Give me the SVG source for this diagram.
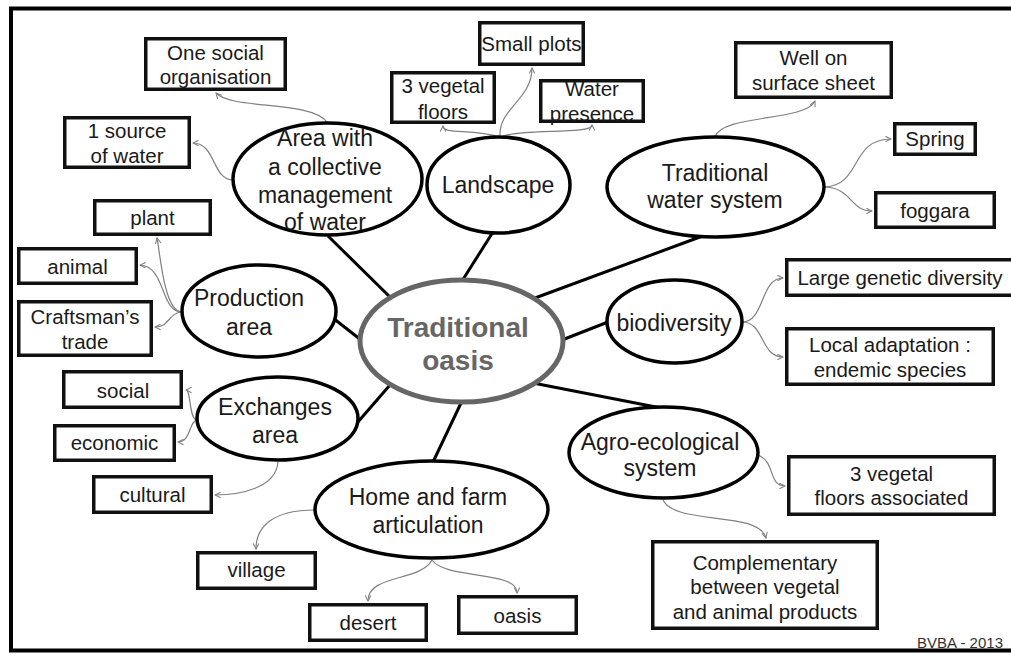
<svg xmlns="http://www.w3.org/2000/svg" width="1011" height="655" viewBox="0 0 1011 655">
<defs>
<style>
.bg{fill:#fff}
.frame{fill:none;stroke:#000;stroke-width:4}
.box{fill:#fff;stroke:#111;stroke-width:3.5}
.ell{fill:#fff;stroke:#000;stroke-width:3.5}
.core{fill:#fff;stroke:#666;stroke-width:5}
.main{stroke:#000;stroke-width:3;fill:none}
.sub{stroke:#808080;stroke-width:1.2;fill:none;marker-end:url(#arr)}
.t{font-family:"Liberation Sans",Arial,sans-serif;font-size:20.5px;fill:#1a1a1a;text-anchor:middle}
.te{font-family:"Liberation Sans",Arial,sans-serif;font-size:23px;fill:#1a1a1a;text-anchor:middle}
.tc{font-family:"Liberation Sans",Arial,sans-serif;font-size:28px;font-weight:bold;fill:#666;text-anchor:middle}
.sig{font-family:"Liberation Sans",Arial,sans-serif;font-size:15px;fill:#333;text-anchor:end}
</style>
<marker id="arr" viewBox="0 0 10 10" refX="9" refY="5" markerWidth="7" markerHeight="7" markerUnits="userSpaceOnUse" orient="auto">
<path d="M1,1 L9,5 L1,9" fill="none" stroke="#808080" stroke-width="1.5"/>
</marker>
</defs>
<rect class="bg" x="0" y="0" width="1011" height="655"/>
<rect class="frame" x="11" y="8.5" width="1010" height="642"/>

<g id="connectors">
<line class="main" x1="328" y1="236" x2="390" y2="297"/>
<line class="main" x1="493" y1="232" x2="462" y2="281"/>
<line class="main" x1="708" y1="234" x2="535" y2="298"/>
<line class="main" x1="562" y1="340" x2="608" y2="322"/>
<line class="main" x1="533" y1="383" x2="661" y2="408"/>
<line class="main" x1="462" y1="401" x2="433" y2="462"/>
<line class="main" x1="390" y1="385" x2="357" y2="423"/>
<line class="main" x1="333" y1="318" x2="361" y2="340"/>

<path class="sub" d="M327,122 C310,100 232,110 216,93"/>
<path class="sub" d="M233,180 C212,180 216,143 193,143"/>
<path class="sub" d="M500,137 C472,128 443,135 443,126"/>
<path class="sub" d="M500,137 C498,108 532,100 532,68"/>
<path class="sub" d="M500,137 C522,128 592,135 592,125"/>
<path class="sub" d="M715,137 C722,114 805,122 815,101"/>
<path class="sub" d="M825,187 C862,185 850,139 891,139"/>
<path class="sub" d="M825,187 C852,188 850,211 872,211"/>
<path class="sub" d="M182,312 C164,312 160,252 157,238"/>
<path class="sub" d="M182,312 C160,312 166,266 140,265"/>
<path class="sub" d="M182,312 C168,313 170,327 155,327"/>
<path class="sub" d="M197,420 C189,420 191,390 186,390"/>
<path class="sub" d="M197,420 C189,421 191,442 178,442"/>
<path class="sub" d="M278,462 C276,488 240,495 215,495"/>
<path class="sub" d="M315,510 C272,510 256,527 256,549"/>
<path class="sub" d="M432,560 C420,582 368,574 368,601"/>
<path class="sub" d="M432,560 C446,580 517,570 517,593"/>
<path class="sub" d="M742,322 C765,322 760,278 783,278"/>
<path class="sub" d="M742,322 C765,322 760,357 783,357"/>
<path class="sub" d="M758,455 C776,462 768,486 785,486"/>
<path class="sub" d="M663,500 C676,526 758,510 766,538"/>
</g>

<g id="n-core"><ellipse class="core" cx="461.5" cy="341" rx="101.5" ry="61"/><text class="tc" x="458" y="337">Traditional</text><text class="tc" x="458" y="370">oasis</text></g>

<g id="n-area"><ellipse class="ell" cx="327.5" cy="179" rx="94.5" ry="56"/><text class="te" x="325" y="146">Area with</text><text class="te" x="325" y="175">a collective</text><text class="te" x="325" y="203">management</text><text class="te" x="325" y="230">of water</text></g>
<g id="n-landscape"><ellipse class="ell" cx="498.5" cy="185" rx="71.5" ry="48"/><text class="te" x="498" y="193">Landscape</text></g>
<g id="n-water"><ellipse class="ell" cx="715.5" cy="187" rx="108.5" ry="50"/><text class="te" x="715" y="181">Traditional</text><text class="te" x="715" y="208">water system</text></g>
<g id="n-production"><ellipse class="ell" cx="259" cy="311" rx="77" ry="46"/><text class="te" x="249" y="306">Production</text><text class="te" x="249" y="335">area</text></g>
<g id="n-exchanges"><ellipse class="ell" cx="277.5" cy="418.5" rx="80.5" ry="41.5"/><text class="te" x="275" y="415">Exchanges</text><text class="te" x="275" y="443">area</text></g>
<g id="n-biodiversity"><ellipse class="ell" cx="674.5" cy="321.5" rx="67.5" ry="41.5"/><text class="te" x="674" y="331">biodiversity</text></g>
<g id="n-agro"><ellipse class="ell" cx="663.5" cy="452.5" rx="94.5" ry="45.5"/><text class="te" x="660" y="450">Agro-ecological</text><text class="te" x="660" y="476">system</text></g>
<g id="n-home"><ellipse class="ell" cx="431.5" cy="509.5" rx="116.5" ry="48.5"/><text class="te" x="428" y="505">Home and farm</text><text class="te" x="428" y="533">articulation</text></g>

<g id="b-social-org"><rect class="box" x="145.75" y="38.75" width="139.5" height="50.5"/><text class="t" x="215.5" y="60">One social</text><text class="t" x="215.5" y="84">organisation</text></g>
<g id="b-source"><rect class="box" x="64.75" y="117.75" width="124.5" height="49.5"/><text class="t" x="127" y="138">1 source</text><text class="t" x="127" y="163">of water</text></g>
<g id="b-plant"><rect class="box" x="94.75" y="200.75" width="115.5" height="33.5"/><text class="t" x="152.5" y="225">plant</text></g>
<g id="b-animal"><rect class="box" x="18.75" y="248.75" width="117.5" height="34.5"/><text class="t" x="77.5" y="274">animal</text></g>
<g id="b-craftsman"><rect class="box" x="18.75" y="301.75" width="132.5" height="53.5"/><text class="t" x="85" y="324">Craftsman’s</text><text class="t" x="85" y="349">trade</text></g>
<g id="b-social"><rect class="box" x="63.75" y="371.75" width="117.5" height="35.5"/><text class="t" x="123" y="398">social</text></g>
<g id="b-economic"><rect class="box" x="54.75" y="425.75" width="119.5" height="34.5"/><text class="t" x="114.5" y="450">economic</text></g>
<g id="b-cultural"><rect class="box" x="93.75" y="476.75" width="117.5" height="35.5"/><text class="t" x="152.5" y="502">cultural</text></g>
<g id="b-village"><rect class="box" x="197.75" y="552.75" width="117.5" height="35.5"/><text class="t" x="256.5" y="577">village</text></g>
<g id="b-desert"><rect class="box" x="309.75" y="604.75" width="116.5" height="35.5"/><text class="t" x="368" y="630">desert</text></g>
<g id="b-oasis"><rect class="box" x="458.75" y="596.75" width="117.5" height="36.5"/><text class="t" x="517.5" y="623">oasis</text></g>
<g id="b-complementary"><rect class="box" x="652.75" y="541.75" width="224.5" height="86.5"/><text class="t" x="765" y="570">Complementary</text><text class="t" x="765" y="594">between vegetal</text><text class="t" x="765" y="619">and animal products</text></g>
<g id="b-floors-assoc"><rect class="box" x="788.75" y="456.75" width="205.5" height="57.5"/><text class="t" x="891.5" y="481">3 vegetal</text><text class="t" x="891.5" y="505">floors associated</text></g>
<g id="b-local"><rect class="box" x="786.75" y="328.75" width="206.5" height="55.5"/><text class="t" x="890" y="352">Local adaptation :</text><text class="t" x="890" y="377">endemic species</text></g>
<g id="b-large"><rect class="box" x="786.75" y="259.75" width="230" height="35.5"/><text class="t" x="900" y="285">Large genetic diversity</text></g>
<g id="b-foggara"><rect class="box" x="875.75" y="192.75" width="118.5" height="34.5"/><text class="t" x="935" y="218">foggara</text></g>
<g id="b-spring"><rect class="box" x="894.75" y="123.75" width="80.5" height="30.5"/><text class="t" x="935" y="146">Spring</text></g>
<g id="b-well"><rect class="box" x="735.75" y="42.75" width="155.5" height="54.5"/><text class="t" x="813.5" y="65">Well on</text><text class="t" x="813.5" y="90">surface sheet</text></g>
<g id="b-water-presence"><rect class="box" x="540.75" y="80.75" width="102.5" height="40.5"/><text class="t" x="592" y="96">Water</text><text class="t" x="592" y="121">presence</text></g>
<g id="b-small-plots"><rect class="box" x="479.75" y="22.75" width="103.5" height="41.5"/><text class="t" x="531.5" y="51">Small plots</text></g>
<g id="b-floors"><rect class="box" x="391.75" y="72.75" width="102.5" height="49.5"/><text class="t" x="443" y="93">3 vegetal</text><text class="t" x="443" y="119">floors</text></g>

<text class="sig" x="1003" y="648">BVBA - 2013</text>
</svg>
